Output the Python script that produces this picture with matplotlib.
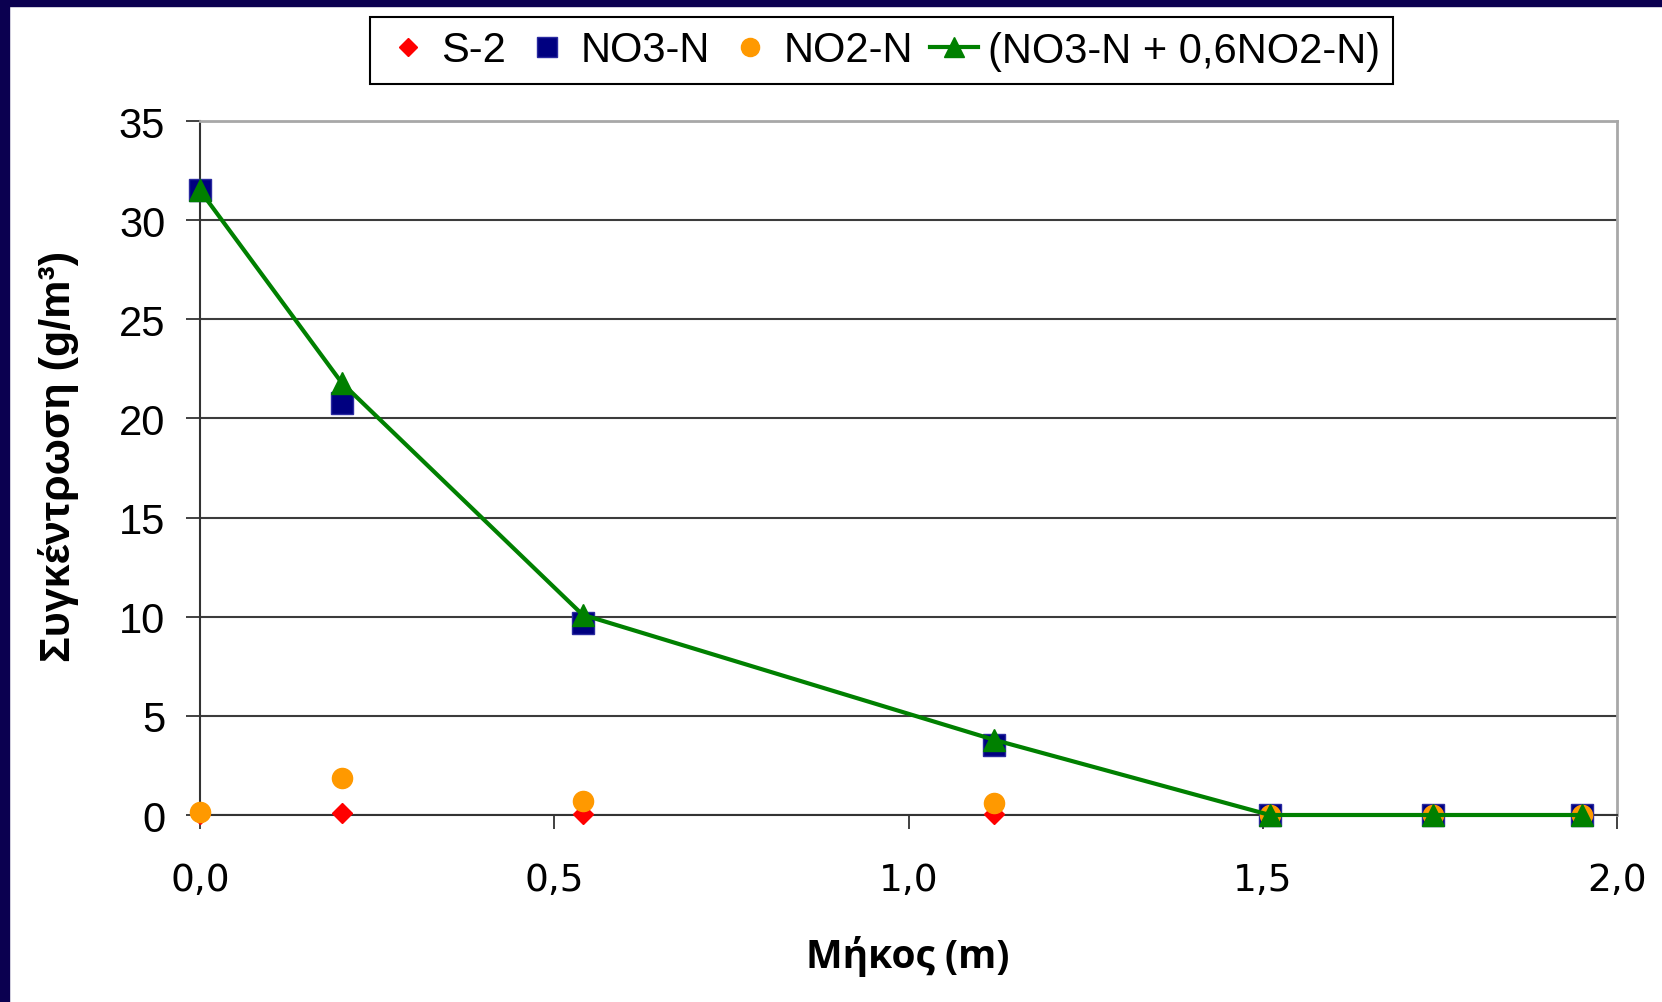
import matplotlib
matplotlib.use("Agg")
import matplotlib.pyplot as plt
from matplotlib.patches import Rectangle
from matplotlib.ticker import FuncFormatter

# ---- data ----
length_m = [0.0, 0.20, 0.54, 1.12, 1.51, 1.74, 1.95]
s2 = [0.05, 0.10, 0.05, 0.05, 0.0, 0.0, 0.0]
no3_n = [31.5, 20.8, 9.7, 3.55, 0.0, 0.0, 0.0]
no2_n = [0.15, 1.87, 0.72, 0.58, 0.0, 0.0, 0.0]
no3_plus_06no2 = [31.5, 21.8, 10.1, 3.8, 0.0, 0.0, 0.0]

series_labels = ["S-2", "NO3-N", "NO2-N", "(NO3-N + 0,6NO2-N)"]
x_label = "Μήκος (m)"
y_label = "Συγκέντρωση (g/m³)"
x_ticks = [0.0, 0.5, 1.0, 1.5, 2.0]
y_ticks = [0, 5, 10, 15, 20, 25, 30, 35]

W, H = 1662, 1003
plt.rcParams['font.family'] = ['Liberation Sans', 'DejaVu Sans']

fig = plt.figure(figsize=(W / 100, H / 100), dpi=100)
fig.patch.set_facecolor('white')
navy = '#0b0050'
fig.patches.append(Rectangle((0, 0), 9 / W, 1, transform=fig.transFigure,
                             color=navy, zorder=-5))
fig.patches.append(Rectangle((0, 1 - 7 / H), 1, 7 / H, transform=fig.transFigure,
                             color=navy, zorder=-5))

L, R, T, B = 200, 1617, 122, 816
ax = fig.add_axes([L / W, 1 - B / H, (R - L) / W, (B - T) / H])
ax.set_xlim(0, 2)
ax.set_ylim(0, 35)

ax.set_xticks(x_ticks)
ax.set_yticks(y_ticks)
ax.xaxis.set_major_formatter(FuncFormatter(lambda v, p: f"{v:.1f}".replace('.', ',')))
ax.yaxis.grid(True, color='#3c3c3c', lw=1.5)
ax.set_axisbelow(True)

for side in ('left', 'bottom'):
    ax.spines[side].set_color('#333333')
    ax.spines[side].set_linewidth(1.5)
for side in ('top', 'right'):
    ax.spines[side].set_color('#a8a8a8')
    ax.spines[side].set_linewidth(2)

ax.tick_params(axis='both', direction='out', length=10, width=1.3, color='#333333')
ax.tick_params(axis='y', pad=15, labelsize=30)
ax.tick_params(axis='x', pad=24, labelsize=27)
for lab in ax.get_xticklabels():
    lab.set_family('DejaVu Sans')

ax.plot(length_m, s2, ls='none', marker='D', ms=10.5, color='#ff0000',
        zorder=3, clip_on=False, label=series_labels[0])
ax.plot(length_m, no3_n, ls='none', marker='s', ms=15.5, mfc='#000080',
        mec='#2a2aa0', mew=1, zorder=4, clip_on=False, label=series_labels[1])
ax.plot(length_m, no2_n, ls='none', marker='o', ms=14.5, color='#ff9900',
        zorder=5, clip_on=False, label=series_labels[2])
ax.plot(length_m, no3_plus_06no2, ls='-', lw=3, marker='^', ms=16,
        color='#008000', zorder=6, clip_on=False, label=series_labels[3])

leg = fig.legend(loc='center', bbox_to_anchor=((370 + 1393) / 2 / W, 1 - 51.5 / H),
                 ncol=4, fontsize=30, frameon=True, fancybox=False, framealpha=1,
                 edgecolor='black', handlelength=1.17, handletextpad=0.22,
                 columnspacing=0.39, borderpad=0.32, markerscale=0.9)
leg.get_frame().set_linewidth(1.5)

fig.text(908 / W, 1 - 968 / H, x_label, ha='center', va='baseline',
         fontsize=28, fontweight='bold', family=['Open Sans', 'DejaVu Sans'])
fig.text(70 / W, 1 - 456.5 / H, y_label, ha='center', va='baseline',
         rotation=90, rotation_mode='anchor', fontsize=31, fontweight='bold')

fig.savefig('out.png', dpi=100, facecolor=fig.get_facecolor())
